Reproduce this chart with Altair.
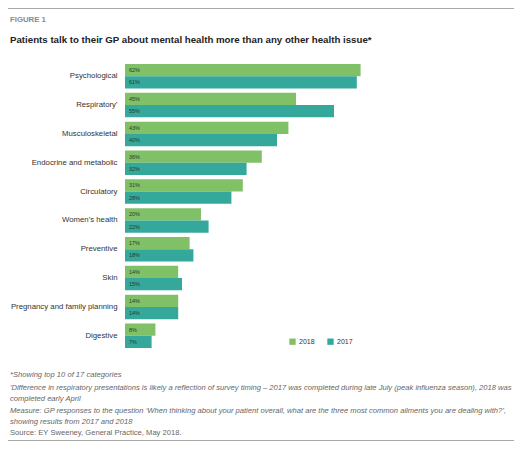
import altair as alt
import pandas as pd

categories = ["Psychological", "Respiratory'", "Musculoskeletal", "Endocrine and metabolic",
              "Circulatory", "Women's health", "Preventive", "Skin",
              "Pregnancy and family planning", "Digestive"]
values_2018 = [62, 45, 43, 36, 31, 20, 17, 14, 14, 8]
values_2017 = [61, 55, 40, 32, 28, 22, 18, 15, 14, 7]
years = ["2018", "2017"]
colors = ["#80c167", "#35a89c"]

figure_label = "FIGURE 1"
title_text = "Patients talk to their GP about mental health more than any other health issue*"
footnotes = [
    "*Showing top 10 of 17 categories",
    "'Difference in respiratory presentations is likely a reflection of survey timing \u2013 2017 was completed during late July (peak influenza season), 2018 was",
    " completed early April",
    "Measure: GP responses to the question \u2018When thinking about your patient overall, what are the three most common ailments you are dealing with?\u2019,",
    "showing results from 2017 and 2018",
]
source_text = "Source: EY Sweeney, General Practice, May 2018."

rows = []
for c, v18, v17 in zip(categories, values_2018, values_2017):
    rows.append({"category": c, "year": "2018", "value": v18, "label": f"{v18}%"})
    rows.append({"category": c, "year": "2017", "value": v17, "label": f"{v17}%"})
df = pd.DataFrame(rows)

FONT = "Liberation Sans"

base = alt.Chart(df).encode(
    y=alt.Y("category:N", sort=categories,
            scale=alt.Scale(paddingInner=0.15, paddingOuter=0.105),
            axis=alt.Axis(title=None, ticks=False, domain=False, labelPadding=8,
                          labelFontSize=7.8, labelColor="#333333", labelFont=FONT)),
    yOffset=alt.YOffset("year:N", sort=years),
)

bars = base.mark_bar().encode(
    x=alt.X("value:Q", scale=alt.Scale(domain=[0, 100]), axis=None),
    color=alt.Color("year:N", sort=years,
                    scale=alt.Scale(domain=years, range=colors),
                    legend=alt.Legend(title=None, orient="none", legendX=164, legendY=277,
                                      direction="horizontal", symbolType="square",
                                      symbolSize=40, symbolStrokeWidth=0,
                                      labelFontSize=7, labelFont=FONT, labelColor="#333333",
                                      columnPadding=12, labelOffset=3)),
)

labels = base.mark_text(align="left", baseline="middle", dx=4, fontSize=5.5,
                        font=FONT, color="#2a3a2a").encode(
    x=alt.value(0),
    text="label:N",
)

def txt(s, x, y, size, color, weight="normal", style="normal"):
    return alt.Chart(pd.DataFrame({"t": [s]})).mark_text(
        align="left", baseline="middle", fontSize=size, font=FONT, color=color,
        fontWeight=weight, fontStyle=style).encode(
        x=alt.value(x), y=alt.value(y), text="t:N")

def hline(y):
    return alt.Chart(pd.DataFrame({"a": [0]})).mark_rule(color="#aaaaaa", strokeWidth=1).encode(
        x=alt.value(-117), x2=alt.value(389), y=alt.value(y))

layers = [bars, labels,
          hline(-52.5),
          txt(figure_label, -115, -41, 7.8, "#8a8a8a", weight="bold"),
          txt(title_text, -115, -21, 9.7, "#222222", weight="bold")]
ys = [314, 327, 338, 350, 361]
for s, y in zip(footnotes, ys):
    layers.append(txt(s, -115, y, 7.6, "#666666", style="italic"))
layers.append(txt(source_text, -115, 372, 7.6, "#666666"))
layers.append(hline(379.5))

chart = alt.layer(*layers).properties(
    width=380, height=290,
    padding={"left": 117, "top": 53, "right": 9, "bottom": 90},
    autosize=alt.AutoSizeParams(type="none"),
).configure_view(stroke=None)

chart.save("out.html", embed_options={"renderer": "svg", "actions": False})
